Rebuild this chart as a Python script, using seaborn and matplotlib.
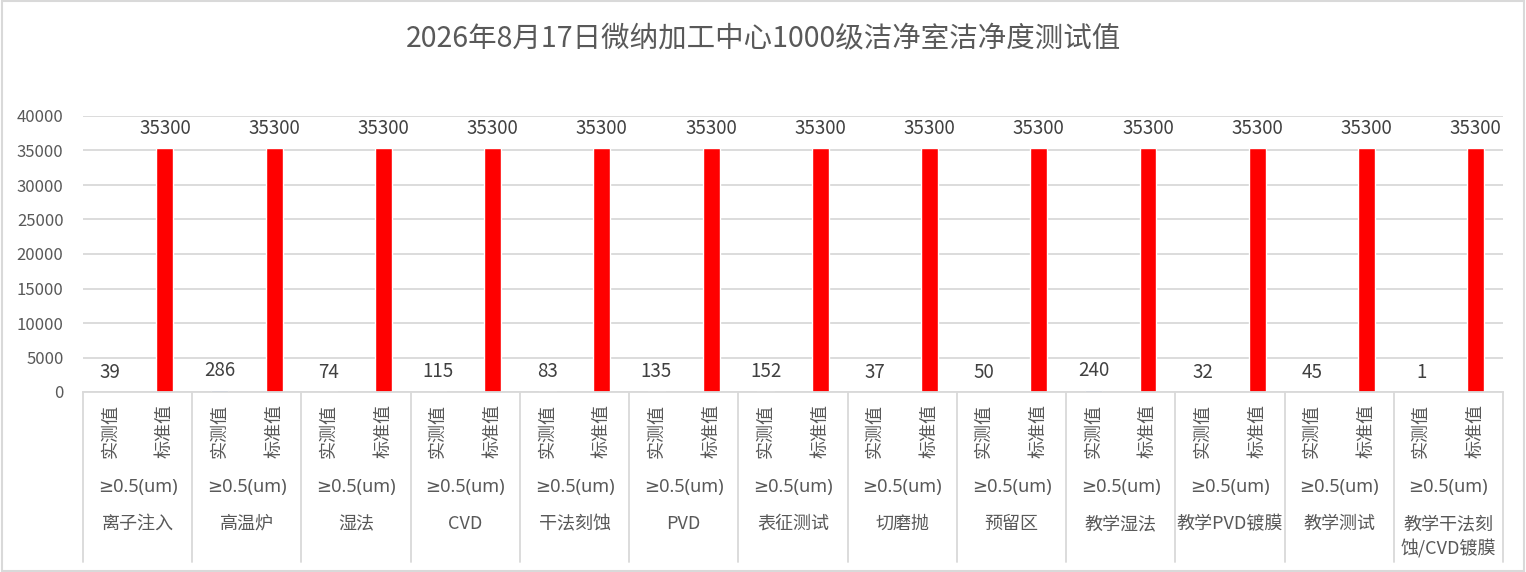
import matplotlib
matplotlib.use("Agg")
import matplotlib.pyplot as plt
import seaborn as sns
import pandas as pd
from matplotlib.lines import Line2D
from matplotlib.patches import Rectangle

title = "2026年8月17日微纳加工中心1000级洁净室洁净度测试值"
groups = ["离子注入", "高温炉", "湿法", "CVD", "干法刻蚀", "PVD", "表征测试",
          "切磨抛", "预留区", "教学湿法", "教学PVD镀膜", "教学测试", "教学干法刻\n蚀/CVD镀膜"]
size_label = "≥0.5(um)"
kinds = ["实测值", "标准值"]
measured = [39, 286, 74, 115, 83, 135, 152, 37, 50, 240, 32, 45, 1]
standard = [35300] * 13
y_ticks = [0, 5000, 10000, 15000, 20000, 25000, 30000, 35000, 40000]

colors = {"实测值": "#4472C4", "标准值": "#FF0000"}
text_color = "#595959"
line_color = "#D9D9D9"

rows = []
for i, g in enumerate(groups):
    rows.append({"slot": f"{i}-m", "value": measured[i], "kind": kinds[0], "group": g})
    rows.append({"slot": f"{i}-s", "value": standard[i], "kind": kinds[1], "group": g})
df = pd.DataFrame(rows)

sns.set_theme(style="white")
plt.rcParams["font.family"] = ["Noto Sans CJK SC", "DejaVu Sans"]

fig = plt.figure(figsize=(15.26, 5.72), dpi=100)
ax = fig.add_axes([83 / 1526, (572 - 392) / 572, 1420 / 1526, 276 / 572])

sns.barplot(data=df, x="slot", y="value", hue="kind", palette=colors,
            dodge=False, width=0.31, legend=False, ax=ax, order=list(df["slot"]),
            saturation=1)

ax.set_ylim(0, 40000)
ax.set_xlim(-0.5, len(df) - 0.5)
ax.set_yticks(y_ticks)
ax.set_yticklabels([str(v) for v in y_ticks], fontsize=12, color=text_color)
ax.yaxis.grid(True, color=line_color, linewidth=1.3)
ax.set_axisbelow(True)
for s in ["left", "right", "top"]:
    ax.spines[s].set_visible(False)
ax.spines["bottom"].set_color(line_color)
ax.spines["bottom"].set_linewidth(1.3)
ax.tick_params(axis="y", length=0, pad=14)
ax.tick_params(axis="x", length=0, pad=9)
ax.set_xticks(range(len(df)))
ax.set_xticklabels(list(df["kind"]), rotation=90, fontsize=13, color=text_color)
ax.set_xlabel("")
ax.set_ylabel("")

# data labels
for idx, row in df.iterrows():
    ax.annotate(str(row["value"]), xy=(idx, row["value"]), xytext=(0, 14),
                textcoords="offset points", ha="center", va="center",
                fontsize=13.5, color="#404040")

trans = ax.get_xaxis_transform()
n = len(groups)
for i, g in enumerate(groups):
    cx = 2 * i + 0.5
    ax.text(cx, (392 - 487) / 276, size_label, transform=trans, ha="center",
            va="center", fontsize=13, color=text_color,
            family=["Noto Sans", "DejaVu Sans"])
    ax.text(cx, (392 - 515) / 276, g, transform=trans, ha="center",
            va="top", fontsize=13, color=text_color, linespacing=1.4)
for k in range(n + 1):
    xb = 2 * k - 0.5
    ax.add_line(Line2D([xb, xb], [0, (392 - 562) / 276], transform=trans,
                       color=line_color, linewidth=1.3, clip_on=False))

fig.text(0.5, 1 - 38 / 572, title, ha="center", va="center", fontsize=20.5,
         color=text_color)
fig.patches.append(Rectangle((0.001, 0.002), 0.998, 0.996, transform=fig.transFigure,
                             fill=False, edgecolor=line_color, linewidth=1.5))

fig.savefig("out.png", dpi=100)
